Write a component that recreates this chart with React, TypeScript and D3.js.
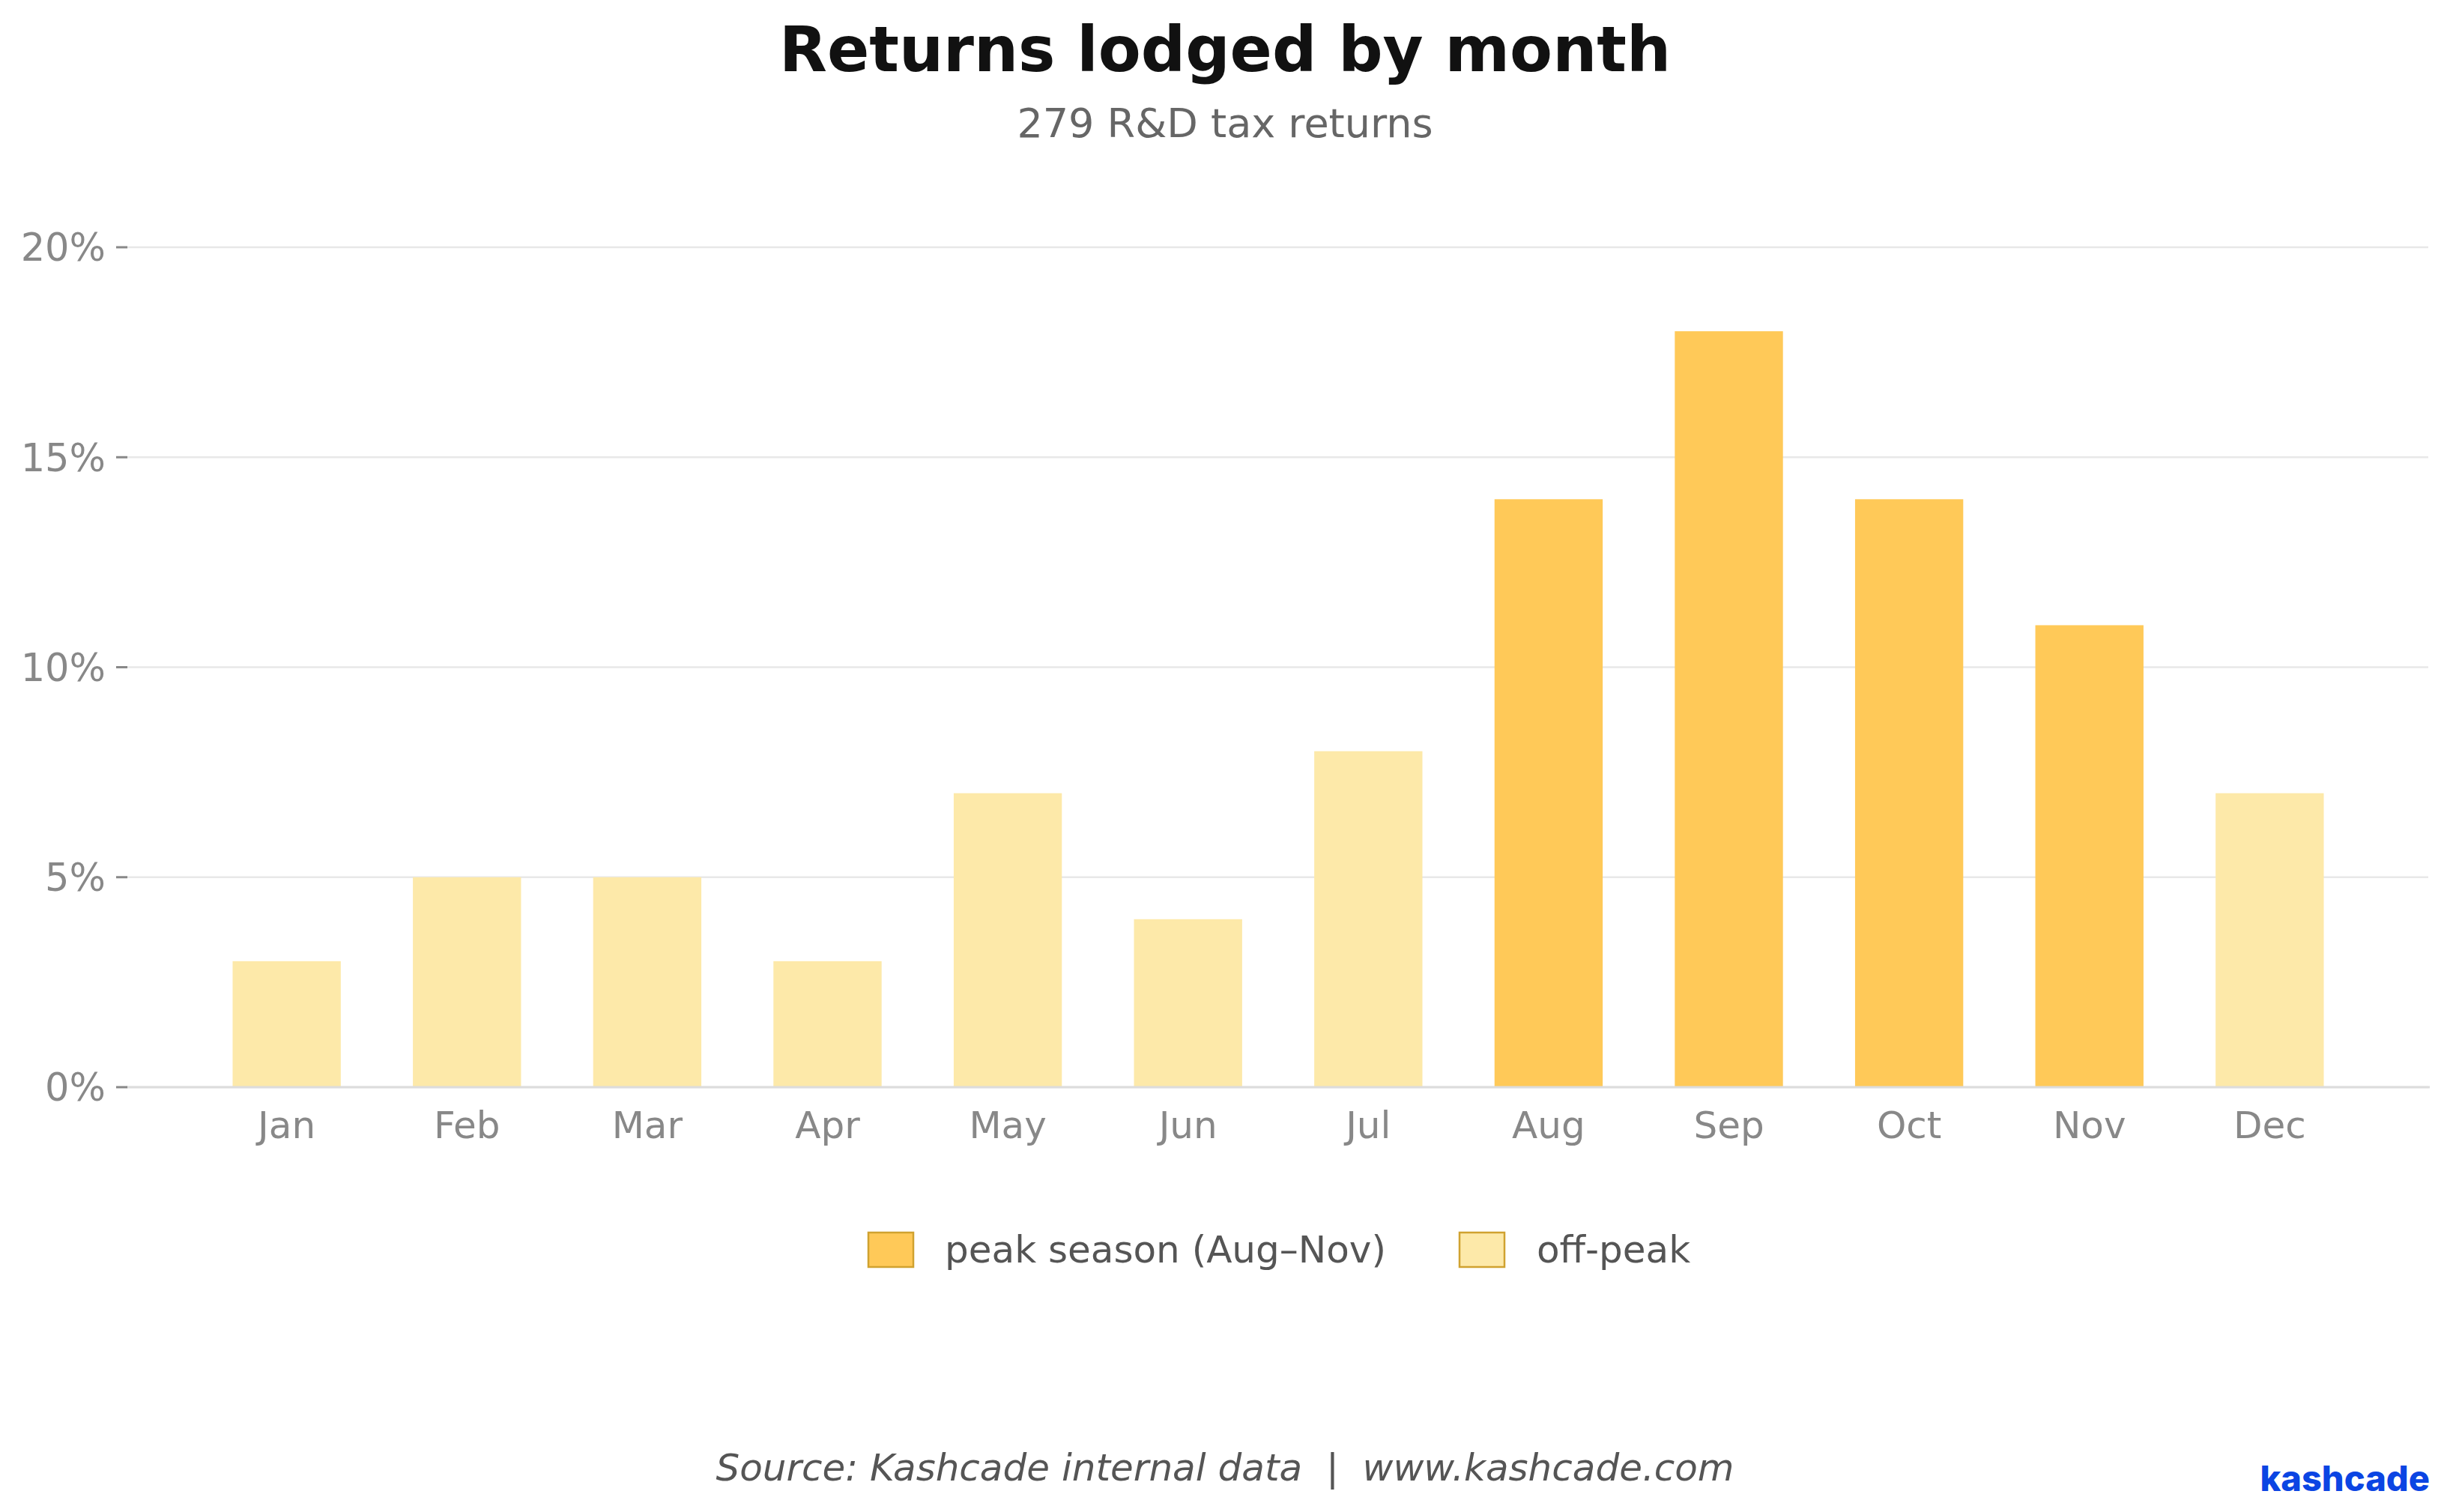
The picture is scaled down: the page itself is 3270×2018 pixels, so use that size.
import React from "react";
import * as d3 from "d3";

const months = ["Jan", "Feb", "Mar", "Apr", "May", "Jun", "Jul", "Aug", "Sep", "Oct", "Nov", "Dec"];
const shares = [3, 5, 5, 3, 7, 4, 8, 14, 18, 14, 11, 7];
const peakMonths = ["Aug", "Sep", "Oct", "Nov"];
const yTicks = [0, 5, 10, 15, 20];
const legendLabels = ["peak season (Aug–Nov)", "off-peak"];

const W = 3270;
const H = 2018;
const FONT = "'DejaVu Sans', sans-serif";
const PEAK = "#FFC958";
const OFF = "#FDE9A9";
const EDGE = "#D0A230";

export default function App() {
  const left = 169;
  const right = 3243;
  const x = d3
    .scaleBand<string>()
    .domain(months)
    .range([left, right])
    .paddingInner(0.4)
    .paddingOuter(0.588);
  const y = d3.scaleLinear().domain([0, 20]).range([1451, 330]);

  const legendItems = [
    { label: legendLabels[0], fill: PEAK, px: 1159, tx: 1261 },
    { label: legendLabels[1], fill: OFF, px: 1948, tx: 2051 },
  ];

  return (
    <svg
      width={W}
      height={H}
      viewBox={`0 0 ${W} ${H}`}
      style={{ position: "absolute", left: 0, top: 0, background: "#fff" }}
    >
      <rect x={0} y={0} width={W} height={H} fill="#fff" />
      {/* title */}
      <text x={1635} y={95} textAnchor="middle" fontFamily={FONT} fontWeight="bold" fontSize={83} fill="#111">
        Returns lodged by month
      </text>
      <text x={1635} y={183} textAnchor="middle" fontFamily={FONT} fontSize={54} fill="#666">
        279 R&amp;D tax returns
      </text>

      {/* gridlines */}
      {yTicks.map((t) => (
        <line key={"g" + t} x1={left} x2={3241} y1={y(t)} y2={y(t)} stroke="#e8e8e8" strokeWidth={2.6} />
      ))}

      {/* bars */}
      {months.map((m, i) => (
        <rect
          key={m}
          x={x(m)}
          width={x.bandwidth()}
          y={y(shares[i])}
          height={y(0) - y(shares[i])}
          fill={peakMonths.includes(m) ? PEAK : OFF}
        />
      ))}

      {/* bottom spine */}
      <line x1={left} x2={right} y1={y(0)} y2={y(0)} stroke="#dcdcdc" strokeWidth={3} />

      {/* y ticks */}
      {yTicks.map((t) => (
        <g key={"t" + t}>
          <line x1={155} x2={170} y1={y(t)} y2={y(t)} stroke="#888" strokeWidth={3} />
          <text
            x={141}
            y={y(t)}
            dy="0.36em"
            textAnchor="end"
            fontFamily={FONT}
            fontSize={51}
            fill="#888"
          >
            {t}%
          </text>
        </g>
      ))}

      {/* x labels */}
      {months.map((m) => (
        <text
          key={"x" + m}
          x={(x(m) as number) + x.bandwidth() / 2}
          y={1519}
          textAnchor="middle"
          fontFamily={FONT}
          fontSize={50}
          fill="#888"
        >
          {m}
        </text>
      ))}

      {/* legend */}
      {legendItems.map((it) => (
        <g key={it.label}>
          <rect x={it.px} y={1645} width={60} height={46} fill={it.fill} stroke={EDGE} strokeWidth={2.5} />
          <text x={it.tx} y={1685} fontFamily={FONT} fontSize={50} fill="#555">
            {it.label}
          </text>
        </g>
      ))}

      {/* source */}
      <text
        x={1635}
        y={1976}
        textAnchor="middle"
        fontFamily={FONT}
        fontStyle="italic"
        fontSize={50}
        fill="#555"
        style={{ whiteSpace: "pre" }}
      >
        {"Source: Kashcade internal data  |  www.kashcade.com"}
      </text>

      {/* logo */}
      <text
        x={3243}
        y={1990}
        textAnchor="end"
        fontFamily="Inter, Lato, sans-serif"
        fontWeight={800}
        fontSize={47}
        fill="#0B45E3"
      >
        kashcade
      </text>
    </svg>
  );
}
